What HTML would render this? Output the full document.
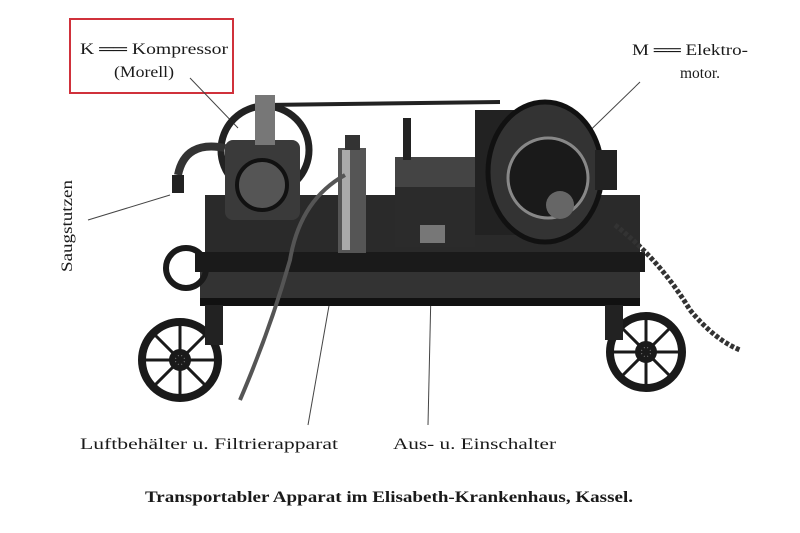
<!DOCTYPE html>
<html><head><meta charset="utf-8"><style>
html,body{margin:0;padding:0;background:#fff;}
svg{display:block;}
text{font-family:"Liberation Serif",serif;fill:#1a1a1a;}
</style></head><body>
<svg width="800" height="533" viewBox="0 0 800 533" xmlns="http://www.w3.org/2000/svg">
<rect width="800" height="533" fill="#fff"/>
<rect x="70" y="19" width="163" height="74" fill="none" stroke="#d0313b" stroke-width="2"/>
<g font-size="16">
<text x="80" y="54" textLength="148" lengthAdjust="spacingAndGlyphs">K ══ Kompressor</text>
<text x="114" y="77" textLength="60" lengthAdjust="spacingAndGlyphs">(Morell)</text>
<text x="632" y="55" textLength="116" lengthAdjust="spacingAndGlyphs">M ══ Elektro-</text>
<text x="680" y="78" textLength="40" lengthAdjust="spacingAndGlyphs">motor.</text>
<text transform="translate(72,272) rotate(-90)" textLength="92" lengthAdjust="spacingAndGlyphs">Saugstutzen</text>
<text x="80" y="449" textLength="258" lengthAdjust="spacingAndGlyphs">Luftbehälter u. Filtrierapparat</text>
<text x="393" y="449" textLength="163" lengthAdjust="spacingAndGlyphs">Aus- u. Einschalter</text>
<text x="145" y="502" font-weight="bold" textLength="488" lengthAdjust="spacingAndGlyphs">Transportabler Apparat im Elisabeth-Krankenhaus, Kassel.</text>
</g>
<g stroke="#444" stroke-width="1" fill="none">
<line x1="190" y1="78" x2="238" y2="128"/>
<line x1="640" y1="82" x2="570" y2="150"/>
<line x1="88" y1="220" x2="170" y2="195"/>
<line x1="308" y1="425" x2="330" y2="300"/>
<line x1="428" y1="425" x2="432" y2="245"/>
</g>
<path d="M265 105 L500 102" stroke="#222" stroke-width="4"/>
<rect x="205" y="195" width="435" height="60" fill="#2a2a2a"/>
<rect x="195" y="252" width="450" height="20" fill="#1a1a1a"/>
<rect x="200" y="272" width="440" height="30" fill="#333"/>
<rect x="200" y="298" width="440" height="8" fill="#111"/>
<circle cx="265" cy="150" r="44" fill="none" stroke="#222" stroke-width="7"/>
<rect x="225" y="140" width="75" height="80" rx="8" fill="#3a3a3a"/>
<circle cx="262" cy="185" r="25" fill="#555" stroke="#111" stroke-width="4"/>
<rect x="255" y="95" width="20" height="50" fill="#777"/>
<path d="M225 148 Q185 140 178 175" stroke="#333" stroke-width="8" fill="none"/>
<rect x="172" y="175" width="12" height="18" fill="#222"/>
<rect x="338" y="148" width="28" height="105" fill="#555"/>
<rect x="342" y="150" width="8" height="100" fill="#aaa"/>
<rect x="345" y="135" width="15" height="15" fill="#333"/>
<path d="M345 175 Q300 200 290 260 Q270 330 240 400" stroke="#555" stroke-width="4" fill="none"/>
<rect x="395" y="157" width="80" height="90" fill="#2b2b2b"/>
<rect x="395" y="157" width="80" height="30" fill="#444"/>
<rect x="403" y="118" width="8" height="42" fill="#222"/>
<rect x="420" y="225" width="25" height="18" fill="#777"/>
<rect x="475" y="110" width="75" height="125" fill="#222"/>
<ellipse cx="545" cy="172" rx="57" ry="70" fill="#333" stroke="#111" stroke-width="5"/>
<circle cx="548" cy="178" r="40" fill="#1a1a1a" stroke="#888" stroke-width="3"/>
<circle cx="560" cy="205" r="14" fill="#666"/>
<rect x="595" y="150" width="22" height="40" fill="#222"/>
<path d="M615 225 Q660 260 690 310 Q715 340 740 350" stroke="#333" stroke-width="5" fill="none" stroke-dasharray="4 2"/>
<g fill="none" stroke="#1a1a1a">
<circle cx="180" cy="360" r="38" stroke-width="8"/>
<circle cx="180" cy="360" r="8" stroke-width="6"/>
<path d="M180 324 L180 396 M144 360 L216 360 M155 335 L205 385 M205 335 L155 385" stroke-width="3"/>
<circle cx="186" cy="268" r="20" stroke-width="6"/>
<circle cx="646" cy="352" r="36" stroke-width="8"/>
<circle cx="646" cy="352" r="8" stroke-width="6"/>
<path d="M646 318 L646 386 M612 352 L680 352 M622 328 L670 376 M670 328 L622 376" stroke-width="3"/>
</g>
<rect x="205" y="305" width="18" height="40" fill="#222"/>
<rect x="605" y="305" width="18" height="35" fill="#222"/>
</svg>
</body></html>
